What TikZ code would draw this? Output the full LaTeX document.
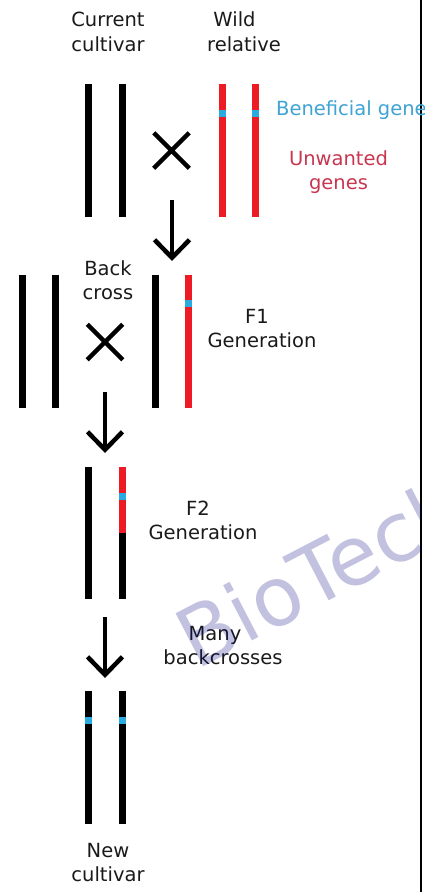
\documentclass[tikz,border=0pt]{standalone}
\usepackage{fontspec}
\setmainfont{DejaVu Sans}
\usetikzlibrary{arrows.meta,shapes.misc}
\definecolor{chromred}{HTML}{ED1C24}
\definecolor{spotblue}{HTML}{29ABE2}
\definecolor{benblue}{HTML}{3FA3D3}
\definecolor{unwred}{HTML}{C8374F}
\definecolor{txt}{HTML}{1A1A1A}
\definecolor{wmnavy}{HTML}{000080}
\tikzset{
  chrom/.style={rectangle, fill=black, draw=none, inner sep=0pt, minimum width=7pt, minimum height=133pt},
  redchrom/.style={chrom, fill=chromred},
  spot/.style={rectangle, fill=spotblue, draw=none, inner sep=0pt, minimum width=7pt, minimum height=7pt},
  lbl/.style={text=txt, font=\fontsize{19.5}{24.5}\selectfont, align=center, inner sep=0pt, anchor=base},
  crossmark/.style={cross out, draw=black, line width=4.5pt, inner sep=0pt, minimum size=31pt},
  flow/.style={draw=black, line width=4.5pt, -{Straight Barb[length=18pt, width=35pt, line width=4.5pt]}},
  watermark/.style={text=wmnavy, opacity=0.24, font=\fontsize{82}{82}\selectfont, inner sep=0pt}
}
\begin{document}
\begin{tikzpicture}[x=1pt, y=-1pt]
\useasboundingbox (0,0) rectangle (424,892);
\fill[white] (0,0) rectangle (424,892);
% right frame line
\draw[line width=2.2pt, black] (421,0) -- (421,892);

% --- parents
\node[chrom] (cc1) at (88.5,150.5) {};
\node[chrom] (cc2) at (122,150.5) {};
\node[redchrom] (wr1) at (222,150.5) {};
\node[redchrom] (wr2) at (255.5,150.5) {};
\node[spot] (ws1) at (222,113) {};
\node[spot] (ws2) at (255.5,113) {};
\node[crossmark] (x1) at (171.5,150.5) {};

\node[lbl] (tcur) at (108,51) {Current\\cultivar};
\node[lbl] (twild) at (244,51) {Wild\hspace*{19pt}\\relative};
\node[lbl, text=benblue, anchor=base west] (tben) at (276,115) {Beneficial genes};
\node[lbl, text=unwred] (tunw) at (338.5,189.5) {Unwanted\\genes};

% --- back cross / F1
\node[chrom] (bc1) at (22,341.5) {};
\node[chrom] (bc2) at (55.5,341.5) {};
\node[crossmark] (x2) at (105,342) {};
\node[chrom] (fa) at (155.5,341.5) {};
\node[redchrom] (fb) at (188.5,341.5) {};
\node[spot] (fs) at (188.5,303) {};
\node[lbl] (tback) at (108,299.5) {Back\\cross};
\node[lbl] (tf1) at (262,347.5) {F1\hspace*{10pt}\\Generation};

% --- F2
\node[chrom, minimum height=132pt] (ga) at (88.5,533) {};
\node[redchrom, minimum height=66pt] (gbr) at (122,500) {};
\node[chrom, minimum height=66pt] (gbk) at (122,566) {};
\node[spot] (gs) at (122,496) {};
\node[lbl] (tf2) at (203,539.5) {F2\hspace*{10pt}\\Generation};
\node[lbl] (tmany) at (223,664.5) {Many\hspace*{16pt}\\backcrosses};

% --- new cultivar
\node[chrom] (n1) at (88.5,757.5) {};
\node[chrom] (n2) at (122,757.5) {};
\node[spot] (ns1) at (88.5,720) {};
\node[spot] (ns2) at (122,720) {};
\node[lbl] (tnew) at (108,881.5) {New\\cultivar};

% --- arrows
\coordinate (a1s) at (172,200);
\coordinate (a1e) at (172,261);
\coordinate (a2s) at (105,392);
\coordinate (a2e) at (105,453);
\coordinate (a3s) at (105,617);
\coordinate (a3e) at (105,678);
\draw[flow] (a1s) -- (a1e);
\draw[flow] (a2s) -- (a2e);
\draw[flow] (a3s) -- (a3e);

% --- watermark
\begin{scope}
\clip (0,0) rectangle (420,892);
\node[watermark, rotate=27.5, anchor=base west] (wm) at (195.9,670.7) {BioTech};
\end{scope}
\end{tikzpicture}
\end{document}
